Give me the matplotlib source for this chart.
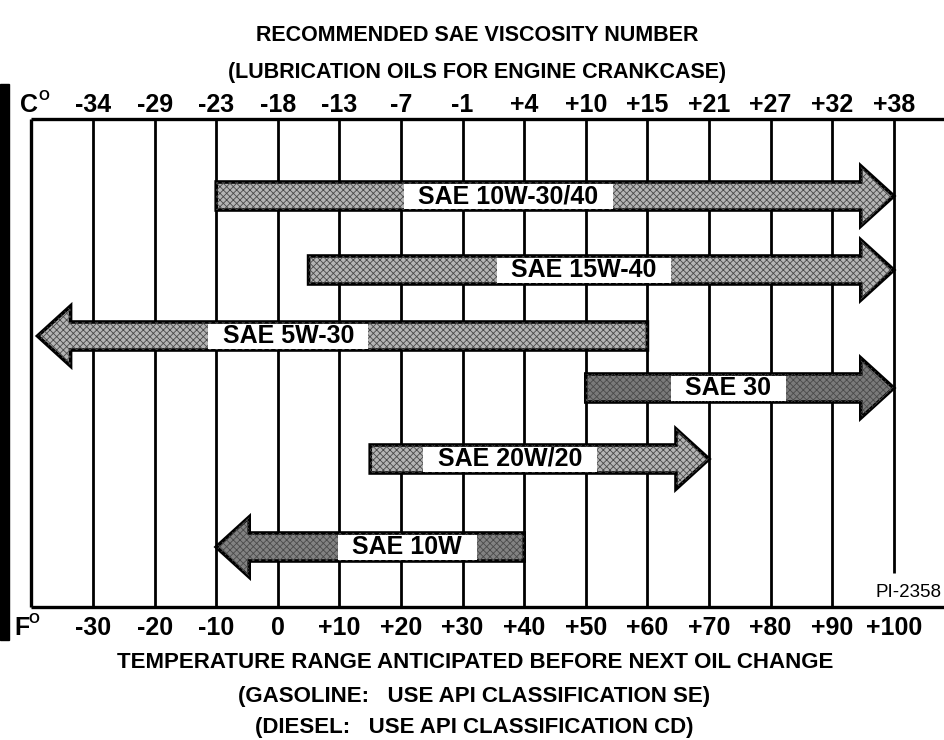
import matplotlib
matplotlib.use("Agg")
import matplotlib.pyplot as plt
from matplotlib.patches import FancyArrow, Rectangle

# ---------------------------
# Data
# ---------------------------
oils = ['SAE 10W-30/40', 'SAE 15W-40', 'SAE 5W-30', 'SAE 30', 'SAE 20W/20', 'SAE 10W']
temp_from_f = [-10, 5, 60, 50, 15, 40]     # arrow tail (deg F)
temp_to_f = [100, 100, -39, 100, 70, -10]  # arrow tip (deg F)

grid_f = [-30, -20, -10, 0, 10, 20, 30, 40, 50, 60, 70, 80, 90, 100]
f_labels = ['-30', '-20', '-10', '0', '+10', '+20', '+30', '+40', '+50', '+60',
            '+70', '+80', '+90', '+100']
c_labels = ['-34', '-29', '-23', '-18', '-13', '-7', '-1', '+4', '+10', '+15',
            '+21', '+27', '+32', '+38']

# ---------------------------
# Layout (pixels from top, label centres in deg F)
# ---------------------------
row_y = [196, 270, 336, 388, 459, 547]
label_x = [37.4, 49.7, 1.7, 73.1, 37.7, 21.0]
shades = ['#b4b4b4', '#b4b4b4', '#b4b4b4', '#7a7a7a', '#b4b4b4', '#828282']
top_y, bot_y = 119, 607
px_per_deg = 6.16
x_left = -40 - 31.4 / px_per_deg
x_right = -40 + (945 - 31.4) / px_per_deg

plt.rcParams['font.family'] = ['Liberation Sans', 'DejaVu Sans']
plt.rcParams['hatch.linewidth'] = 0.6

fig = plt.figure(figsize=(9.45, 7.4), dpi=100)
ax = fig.add_axes([0, 0, 1, 1])
ax.set_xlim(x_left, x_right)
ax.set_ylim(740, 0)
ax.axis('off')

# frame + grid
ax.hlines([top_y, bot_y], -40, x_right, color='black', lw=2.4)
ax.vlines(-40, top_y, bot_y, color='black', lw=2.4)
ax.vlines(grid_f[:-1], top_y, bot_y, color='black', lw=2.0)
ax.vlines(grid_f[-1], top_y, 573, color='black', lw=2.0)

# thick bar at the left edge
fig.patches.append(Rectangle((0, 100 / 740), 9 / 945, 556 / 740,
                             transform=fig.transFigure, color='black'))

# ---------------------------
# Arrows
# ---------------------------
head_len = 33 / px_per_deg
for name, t0, t1, y, lx, shade in zip(oils, temp_from_f, temp_to_f, row_y, label_x, shades):
    arrow = FancyArrow(t0, y, t1 - t0, 0, width=28, head_width=60, head_length=head_len,
                       length_includes_head=True, facecolor=shade, edgecolor='black',
                       lw=2.6, zorder=3)
    ax.add_patch(arrow)
    # halftone-ish texture on top of the fill
    screen = FancyArrow(t0, y, t1 - t0, 0, width=28, head_width=60, head_length=head_len,
                        length_includes_head=True, facecolor='none', edgecolor='#4a4a4a',
                        hatch='xxxxx', lw=0, zorder=3.5)
    ax.add_patch(screen)
    ax.text(lx, y, '  ' + name + '  ', ha='center', va='center', fontsize=18,
            fontweight='bold', zorder=4,
            bbox=dict(boxstyle='square,pad=0.02', facecolor='white', edgecolor='none'))

# ---------------------------
# Temperature scales
# ---------------------------
for f, c, fl in zip(grid_f, c_labels, f_labels):
    ax.text(f, 112, c, ha='center', va='baseline', fontsize=18, fontweight='bold')
    ax.text(f, 635, fl, ha='center', va='baseline', fontsize=18, fontweight='bold')

ax.text(x_left + 20 / px_per_deg, 112, 'C', ha='left', va='baseline', fontsize=18, fontweight='bold')
ax.text(x_left + 38 / px_per_deg, 100, 'O', ha='left', va='baseline', fontsize=10, fontweight='bold')
ax.text(x_left + 14 / px_per_deg, 635, 'F', ha='left', va='baseline', fontsize=18, fontweight='bold')
ax.text(x_left + 28 / px_per_deg, 623, 'O', ha='left', va='baseline', fontsize=10, fontweight='bold')

ax.text(x_right - 3 / px_per_deg, 597, 'PI-2358', ha='right', va='baseline', fontsize=13.5)

# ---------------------------
# Titles
# ---------------------------
top_font = dict(fontsize=15.5, fontweight='bold', ha='center', va='baseline')
bottom_font = dict(fontsize=16, fontweight='bold', ha='center', va='baseline')
ax.text(x_left + 477 / px_per_deg, 41, 'RECOMMENDED SAE VISCOSITY NUMBER', **top_font)
ax.text(x_left + 477 / px_per_deg, 78, '(LUBRICATION OILS FOR ENGINE CRANKCASE)', **top_font)
ax.text(x_left + 475 / px_per_deg, 668, 'TEMPERATURE RANGE ANTICIPATED BEFORE NEXT OIL CHANGE', **bottom_font)
ax.text(x_left + 474 / px_per_deg, 702, '(GASOLINE:   USE API CLASSIFICATION SE)', **bottom_font)
ax.text(x_left + 474 / px_per_deg, 733, '(DIESEL:   USE API CLASSIFICATION CD)', **bottom_font)

fig.savefig('out.png', dpi=100)
